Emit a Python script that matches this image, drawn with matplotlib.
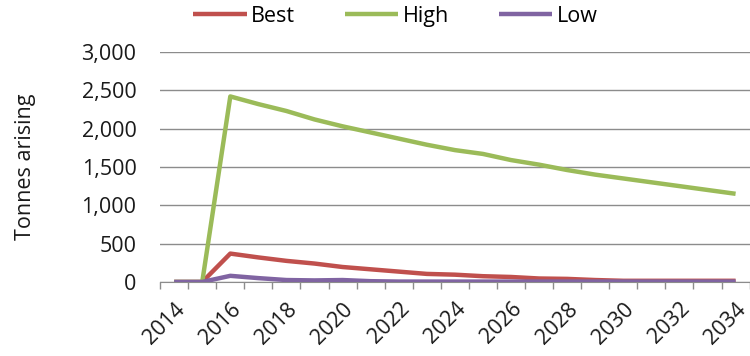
import matplotlib
matplotlib.use('Agg')
import matplotlib.pyplot as plt
import numpy as np

plt.rcParams['font.family'] = ['Open Sans', 'DejaVu Sans']

years = list(range(2014, 2035))
best = [0, 0, 370, 320, 275, 240, 195, 165, 135, 105, 95, 75, 65, 45, 40, 25, 15, 15, 15, 15, 15]
high = [0, 0, 2420, 2320, 2230, 2120, 2030, 1950, 1870, 1790, 1720, 1670, 1590, 1530, 1460, 1400, 1350, 1300, 1250, 1200, 1150]
low = [0, 0, 80, 50, 25, 20, 25, 10, 5, 5, 5, 5, 5, 5, 5, 5, 5, 5, 5, 5, 5]

series = [('Best', best, '#C0504D'), ('High', high, '#9BBB59'), ('Low', low, '#8064A2')]

FS = 15.5
TXT = '#1a1a1a'

fig = plt.figure(figsize=(7.5, 3.56), dpi=100)
ax = fig.add_axes([0.2135, 0.208, 0.786, 0.646])

x = np.arange(len(years))
for name, vals, col in series:
    ax.plot(x, vals, color=col, lw=3.2, label=name, solid_capstyle='butt', zorder=3)

ax.set_xlim(-0.5, len(years) - 0.5)
ax.set_ylim(0, 3000)
ax.set_yticks(np.arange(0, 3001, 500))
ax.set_yticklabels([f'{v:,}' for v in range(0, 3001, 500)], fontsize=FS, color=TXT)
ax.tick_params(axis='y', length=0, pad=17)
ax.grid(axis='y', color='#8c8c8c', lw=1.0, zorder=0)

ax.set_xticks(x[::2])
ax.set_xticklabels([str(y) for y in years[::2]], rotation=45, ha='right',
                   rotation_mode='anchor', fontsize=FS, color=TXT)
ax.set_xticks(np.arange(-0.5, len(years)), minor=True)
ax.tick_params(axis='x', which='major', length=0, pad=12)
ax.tick_params(axis='x', which='minor', length=5, color='#8c8c8c', width=1)

for s in ['top', 'right', 'left']:
    ax.spines[s].set_visible(False)
ax.spines['bottom'].set_color('#8c8c8c')
ax.spines['bottom'].set_zorder(2)

ax.set_ylabel('Tonnes arising', fontsize=FS, color=TXT, labelpad=33)

fig.legend(loc='center', bbox_to_anchor=(0.527, 0.955), ncol=3, frameon=False,
           fontsize=FS, handlelength=2.5, handletextpad=0.2, columnspacing=2.3,
           borderaxespad=0)

fig.savefig('out.png', dpi=100, facecolor='white')
